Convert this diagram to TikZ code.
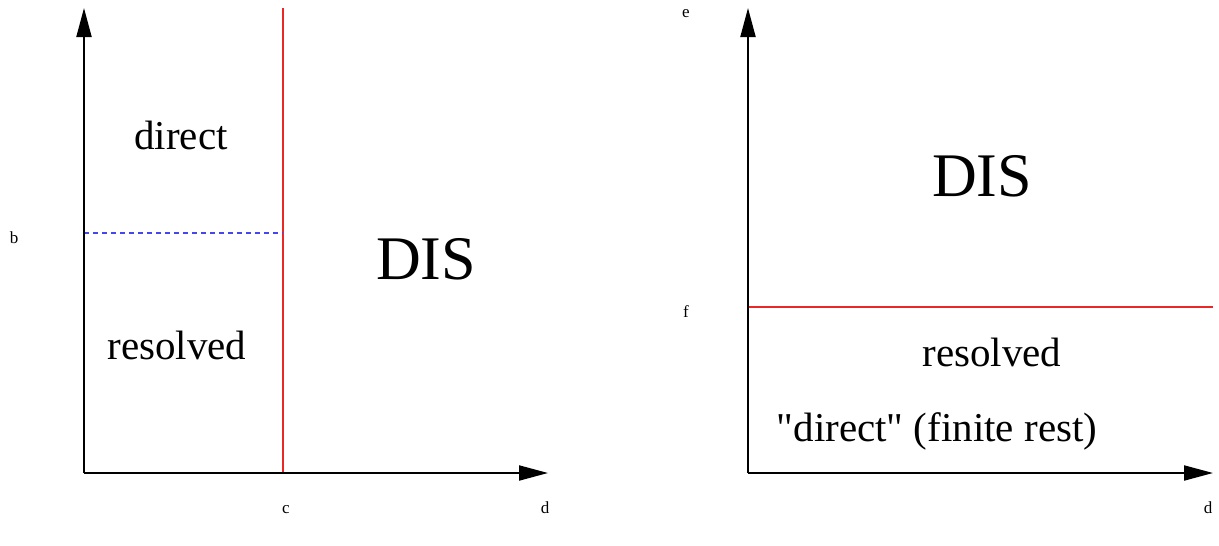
\documentclass[tikz,border=0pt]{standalone}
\usepackage{fontspec}
\setmainfont{Liberation Serif}
\usetikzlibrary{positioning,arrows.meta}

\definecolor{bndred}{RGB}{235,40,40}
\definecolor{dashblue}{RGB}{70,70,240}

\tikzset{
  axis/.style={line width=2pt,-{Triangle[length=29pt,width=15pt]}},
  bound/.style={draw=bndred,line width=1.2pt},
  region/.style={font=\fontsize{41}{41}\selectfont,anchor=base},
  big/.style={font=\fontsize{62}{62}\selectfont,anchor=base},
  tick/.style={font=\fontsize{17}{17}\selectfont,anchor=base}
}

\begin{document}
\begin{tikzpicture}[x=1pt,y=-1pt]
  \useasboundingbox (0,0) rectangle (1219,546);

  % left panel
  \coordinate (lo) at (84,473);
  \coordinate (ltop) at (84,8);
  \coordinate (lend) at (548,473);
  \coordinate (ctop) at (283,8);
  \coordinate (cbot) at (283,473);
  \coordinate (bl) at (84,233);
  \coordinate (br) at (283,233);

  \draw[bound] (ctop) -- (cbot);
  \draw[draw=dashblue,line width=1.2pt,dash pattern=on 5pt off 4pt] (bl) -- (br);
  \draw[axis] (lo) -- (ltop);
  \draw[axis] (lo) -- (lend);

  \node[region] (direct) at (181,149) {direct};
  \node[region] (resolved) at (177,359) {resolved};
  \node[big] (disl) at (426,279) {DIS};
  \node[tick] (b) at (14,243) {b};
  \node[tick] (c) at (286,513) {c};
  \node[tick] (dl) at (545,513) {d};

  % right panel
  \coordinate (ro) at (748,473);
  \coordinate (rtop) at (748,8);
  \coordinate (rend) at (1213,473);
  \coordinate (fl) at (748,307);
  \coordinate (fr) at (1213,307);

  \draw[bound] (fl) -- (fr);
  \draw[axis] (ro) -- (rtop);
  \draw[axis] (ro) -- (rend);

  \node[big] (disr) at (982,196) {DIS};
  \node[region] (resr) at (992,366) {resolved};
  \node[region] (finite) at (937,441) {\textquotedbl direct\textquotedbl{} (finite rest)};
  \node[tick] (e) at (686,17) {e};
  \node[tick] (f) at (686,317) {f};
  \node[tick] (dr) at (1208,513) {d};
\end{tikzpicture}
\end{document}
